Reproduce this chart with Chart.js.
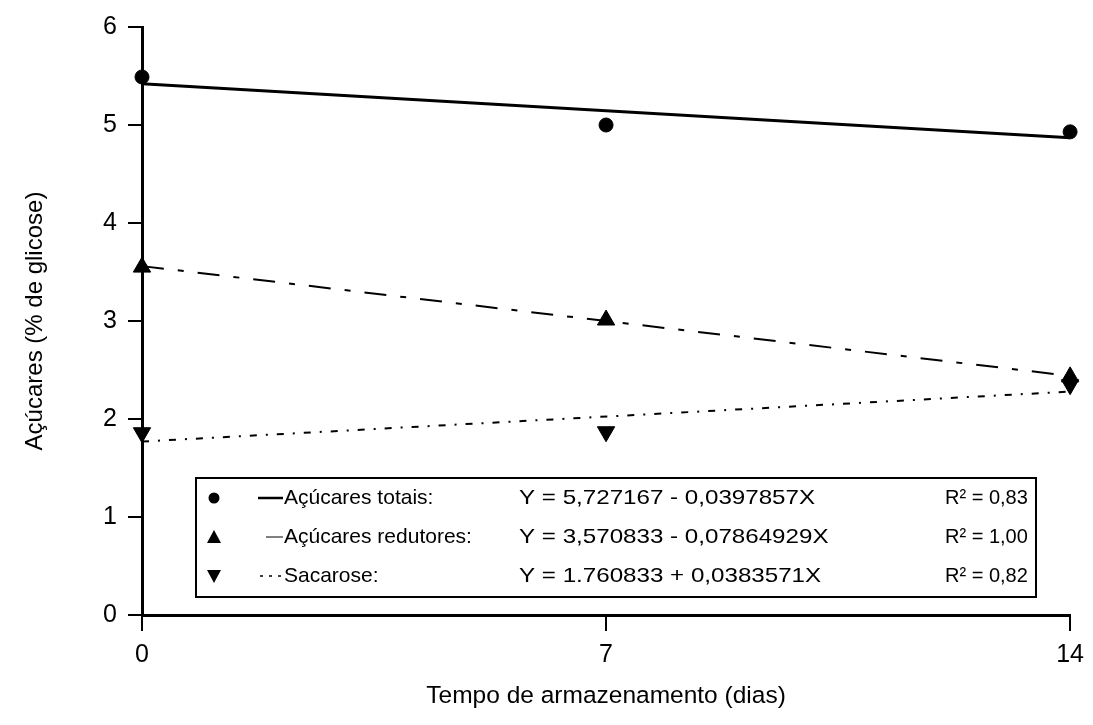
<!DOCTYPE html>
<html>
<head>
<meta charset="utf-8">
<script src="https://cdn.jsdelivr.net/npm/chart.js@4/dist/chart.umd.min.js"></script>
<style>
  html, body { margin: 0; padding: 0; background: #fff; }
  #wrap { width: 1093px; height: 725px; }
</style>
</head>
<body>
<div id="wrap"><canvas id="sugarChart" width="1093" height="725"></canvas></div>
<script>
// storage days
const dias = [0, 7, 14];
const xTicks = [0, 7, 14];
const yTicks = [0, 1, 2, 3, 4, 5, 6];

// observed means
const totais = [5.49, 5.0, 4.93];
const redutores = [3.55, 3.01, 2.43];
const sacarose = [1.86, 1.87, 2.35];

// fitted lines (start / end)
const fitDias = [0, 14];
const fitTotais = [5.42, 4.87];
const fitRedutores = [3.56, 2.44];
const fitSacarose = [1.77, 2.28];

const legendRows = [
  { label: "Açúcares totais:", eq: "Y = 5,727167 - 0,0397857X", r2: "R² = 0,83" },
  { label: "Açúcares redutores:", eq: "Y = 3,570833 - 0,07864929X", r2: "R² = 1,00" },
  { label: "Sacarose:", eq: "Y = 1.760833 + 0,0383571X", r2: "R² = 0,82" },
];

const FONT = "'Liberation Sans', Arial, sans-serif";
const toXY = (xs, ys) => xs.map((x, i) => ({ x: x, y: ys[i] }));

const context = document.getElementById("sugarChart").getContext("2d");

const legendBox = {
  id: "legendBox",
  afterDraw(chart) {
    const c = chart.ctx;
    const left = 196, top = 478, right = 1036, bottom = 597;
    c.save();
    c.fillStyle = "#fff";
    c.fillRect(left, top, right - left, bottom - top);
    c.strokeStyle = "#000";
    c.lineWidth = 2;
    c.strokeRect(left, top, right - left, bottom - top);
    c.fillStyle = "#000";
    c.textBaseline = "middle";
    const rowY = [498, 537, 576];
    legendRows.forEach((row, i) => {
      const y = rowY[i];
      // marker
      c.beginPath();
      if (i === 0) {
        c.arc(214, y, 5.5, 0, Math.PI * 2);
      } else if (i === 1) {
        c.moveTo(214, y - 7); c.lineTo(221, y + 6); c.lineTo(207, y + 6);
      } else {
        c.moveTo(214, y + 7); c.lineTo(221, y - 6); c.lineTo(207, y - 6);
      }
      c.closePath();
      c.fill();
      // line sample
      c.beginPath();
      if (i === 0) {
        c.lineWidth = 2.5; c.setLineDash([]);
        c.moveTo(258, y); c.lineTo(283, y);
      } else if (i === 1) {
        c.lineWidth = 1; c.setLineDash([]);
        c.moveTo(266, y); c.lineTo(283, y);
      } else {
        c.lineWidth = 1.5; c.setLineDash([3, 6]);
        c.moveTo(260, y); c.lineTo(283, y);
      }
      c.stroke();
      c.setLineDash([]);
      c.textAlign = "left";
      c.font = "21px " + FONT;
      c.fillText(row.label, 284, y);
      // equations are set a bit wider in the original
      c.save();
      c.translate(519, y);
      c.scale(1.15, 1);
      c.fillText(row.eq, 0, 0);
      c.restore();
      c.font = "20px " + FONT;
      c.fillText(row.r2, 945, y);
    });
    c.restore();
  },
};

const config = {
  type: "scatter",
  data: {
    datasets: [
      {
        label: "Açúcares totais (ajuste)",
        data: toXY(fitDias, fitTotais),
        showLine: true, pointRadius: 0,
        borderColor: "#000", borderWidth: 3,
      },
      {
        label: "Açúcares redutores (ajuste)",
        data: toXY(fitDias, fitRedutores),
        showLine: true, pointRadius: 0,
        borderColor: "#000", borderWidth: 2,
        borderDash: [22, 14, 6, 14],
      },
      {
        label: "Sacarose (ajuste)",
        data: toXY(fitDias, fitSacarose),
        showLine: true, pointRadius: 0,
        borderColor: "#000", borderWidth: 2,
        borderDash: [7, 9, 2, 9],
      },
      {
        label: "Açúcares totais",
        data: toXY(dias, totais),
        pointStyle: "circle", pointRadius: 7,
        backgroundColor: "#000", borderColor: "#000",
      },
      {
        label: "Açúcares redutores",
        data: toXY(dias, redutores),
        pointStyle: "triangle", pointRadius: 10,
        backgroundColor: "#000", borderColor: "#000",
      },
      {
        label: "Sacarose",
        data: toXY(dias, sacarose),
        pointStyle: "triangle", pointRadius: 10, rotation: 180,
        backgroundColor: "#000", borderColor: "#000",
      },
    ],
  },
  options: {
    responsive: false,
    animation: false,
    clip: false,
    layout: { padding: { top: 27, right: 22, left: 0, bottom: 14 } },
    plugins: { legend: { display: false }, tooltip: { enabled: false } },
    scales: {
      x: {
        type: "linear", min: 0, max: 14,
        afterBuildTicks: (s) => { s.ticks = xTicks.map((v) => ({ value: v })); },
        afterFit: (s) => { s.height = 96; },
        grid: { drawOnChartArea: false, drawTicks: true, tickLength: 16, color: "#000", lineWidth: 2 },
        border: { display: true, color: "#000", width: 3 },
        ticks: { color: "#000", font: { family: FONT, size: 25 }, padding: 9, maxRotation: 0 },
        title: {
          display: true, text: "Tempo de armazenamento (dias)", color: "#000",
          font: { family: FONT, size: 24.5 }, padding: 0,
        },
      },
      y: {
        min: 0, max: 6,
        afterBuildTicks: (s) => { s.ticks = yTicks.map((v) => ({ value: v })); },
        afterFit: (s) => { s.width = 142; },
        grid: { drawOnChartArea: false, drawTicks: true, tickLength: 14, color: "#000", lineWidth: 2 },
        border: { display: true, color: "#000", width: 3 },
        ticks: { color: "#000", font: { family: FONT, size: 25 }, padding: 11 },
        title: {
          display: true, text: "Açúcares (% de glicose)", color: "#000",
          font: { family: FONT, size: 24 }, padding: { top: 21, bottom: 0 },
        },
      },
    },
  },
  plugins: [legendBox],
};

new Chart(context, config);
</script>
</body>
</html>
